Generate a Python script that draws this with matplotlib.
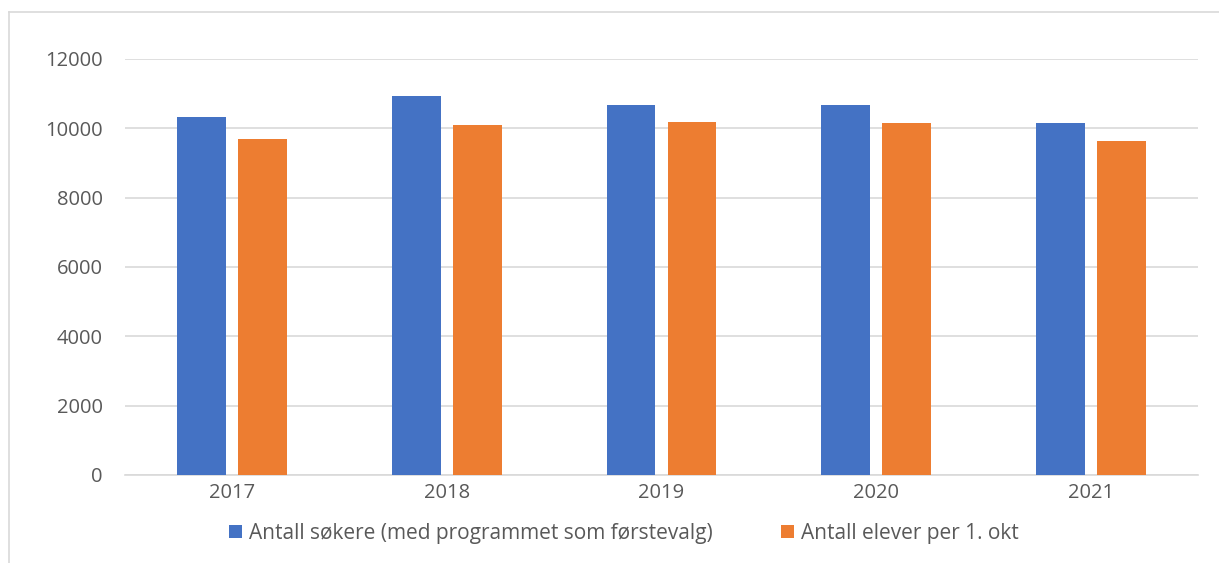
import matplotlib.pyplot as plt
from matplotlib.lines import Line2D
import numpy as np

years = ["2017", "2018", "2019", "2020", "2021"]
sokere = [10320, 10930, 10665, 10685, 10165]   # Antall søkere (med programmet som førstevalg)
elever = [9685, 10100, 10180, 10140, 9640]     # Antall elever per 1. okt

blue = "#4472C4"
orange = "#ED7D31"
text_col = "#595959"

plt.rcParams['font.family'] = ['Open Sans', 'DejaVu Sans']

fig = plt.figure(figsize=(12.19, 5.63), dpi=100)
ax = fig.add_axes([125 / 1219, 1 - 475 / 563, (1198 - 125) / 1219, (475 - 59) / 563])

x = np.arange(len(years))
w = 0.228
off = 0.142
ax.bar(x - off, sokere, w, color=blue, label="Antall søkere (med programmet som førstevalg)", zorder=3)
ax.bar(x + off, elever, w, color=orange, label="Antall elever per 1. okt", zorder=3)

ax.set_xlim(-0.5, len(years) - 0.5)
ax.set_ylim(0, 12000)
ax.set_yticks(range(0, 12001, 2000))
ax.set_xticks(x)
ax.set_xticklabels(years)
ax.grid(axis="y", color="#D9D9D9", linewidth=1.2, zorder=0)
ax.tick_params(length=0, labelsize=14.5, colors=text_col, pad=6)
ax.tick_params(axis="y", pad=16)
for s in ["top", "right", "left"]:
    ax.spines[s].set_visible(False)
ax.spines["bottom"].set_color("#D9D9D9")
ax.spines["bottom"].set_linewidth(1.2)

leg = fig.legend(loc="center", bbox_to_anchor=(624 / 1219, 1 - 533 / 563), ncol=2, frameon=False,
                 fontsize=15, handlelength=0.6, handleheight=0.6, handletextpad=0.35, columnspacing=3.3,
                 labelcolor=text_col)

# light gray frame around the chart
fig.add_artist(Line2D([9 / 1219, 9 / 1219], [0, 1 - 12 / 563], color="#D9D9D9", linewidth=1.2))
fig.add_artist(Line2D([9 / 1219, 1], [1 - 12 / 563, 1 - 12 / 563], color="#D9D9D9", linewidth=1.2))

fig.savefig("out.png", dpi=100)
